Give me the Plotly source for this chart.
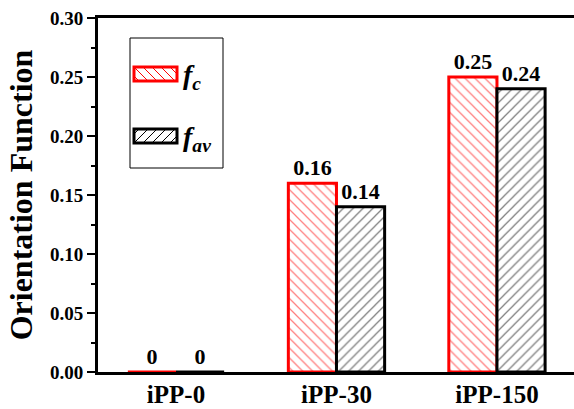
import plotly.graph_objects as go

categories = ["iPP-0", "iPP-30", "iPP-150"]
f_c = [0, 0.16, 0.25]
f_av = [0, 0.14, 0.24]
y_ticks = [0.00, 0.05, 0.10, 0.15, 0.20, 0.25, 0.30]

FONT = "Liberation Serif, Times New Roman, serif"
W, H = 574, 409
L, R, T, B = 98, 574, 18, 372


def px(x):
    return (x - L) / (R - L)


def py(y):
    return (B - y) / (B - T)


def lab(v):
    return f"{v:g}"


def bfont(size):
    return dict(family=FONT, size=size, color="black", weight="bold")


fig = go.Figure()
fig.add_trace(go.Bar(
    x=categories, y=f_c, name="f_c",
    marker=dict(color="white", line=dict(color="#ff0000", width=3),
                pattern=dict(shape="\\", fgcolor="#ff0000", bgcolor="white",
                             size=7, solidity=0.18)),
    text=[lab(v) for v in f_c], textposition="outside", constraintext="none",
    textfont=bfont(22), cliponaxis=False,
))
fig.add_trace(go.Bar(
    x=categories, y=f_av, name="f_av",
    marker=dict(color="white", line=dict(color="black", width=3),
                pattern=dict(shape="/", fgcolor="black", bgcolor="white",
                             size=7, solidity=0.18)),
    text=[lab(v) for v in f_av], textposition="outside", constraintext="none",
    textfont=bfont(22), cliponaxis=False,
))

# custom legend box
shapes = [dict(type="rect", xref="paper", yref="paper",
               x0=px(130), x1=px(223), y0=py(168), y1=py(38),
               line=dict(color="black", width=1), fillcolor="rgba(0,0,0,0)")]


def swatch(cy, color, direction):
    x0, x1 = 134, 177
    y0, y1 = cy - 7, cy + 7
    segs = []
    step = 9
    h = y1 - y0
    for k in range(-2, 8):
        if direction == "back":
            sx0, sy0 = x0 + k * step, y0
            sx1, sy1 = sx0 + h, y1
        else:
            sx0, sy0 = x0 + k * step, y1
            sx1, sy1 = sx0 + h, y0
        if sx1 <= x0 or sx0 >= x1:
            continue
        t0 = max(0, (x0 - sx0) / h)
        t1 = min(1, (x1 - sx0) / h)
        ax, ay = sx0 + t0 * h, sy0 + t0 * (sy1 - sy0)
        bx, by = sx0 + t1 * h, sy0 + t1 * (sy1 - sy0)
        segs.append(f"M{px(ax)},{py(ay)}L{px(bx)},{py(by)}")
    out = [dict(type="path", xref="paper", yref="paper", path="".join(segs),
                line=dict(color=color, width=1))]
    out.append(dict(type="rect", xref="paper", yref="paper",
                    x0=px(x0), x1=px(x1), y0=py(y1), y1=py(y0),
                    line=dict(color=color, width=3)))
    return out


shapes += swatch(74, "#ff0000", "back")
shapes += swatch(136, "black", "fwd")

annotations = [
    dict(xref="paper", yref="paper", x=px(181), y=py(76), xanchor="left", yanchor="middle",
         text="<i>f<sub>c</sub></i>", showarrow=False, font=bfont(28)),
    dict(xref="paper", yref="paper", x=px(181), y=py(138), xanchor="left", yanchor="middle",
         text="<i>f<sub>av</sub></i>", showarrow=False, font=bfont(28)),
]

fig.update_layout(
    width=W, height=H,
    margin=dict(l=L, r=W - R, t=T, b=H - B, pad=0, autoexpand=False),
    paper_bgcolor="white", plot_bgcolor="white",
    barmode="group", bargap=0.4, bargroupgap=0,
    showlegend=False,
    shapes=shapes, annotations=annotations,
    font=dict(family=FONT, color="black"),
)
fig.update_xaxes(
    type="category", range=[-0.486, 2.48], automargin=False,
    showline=True, linecolor="black", linewidth=3, mirror=True,
    ticks="", showgrid=False, layer="below traces",
    tickfont=bfont(25),
    ticklabelstandoff=-2,
)
fig.update_yaxes(
    range=[0, 0.30], tickvals=y_ticks, tickformat=".2f", automargin=False,
    showline=True, linecolor="black", linewidth=3, mirror=False,
    ticks="outside", ticklen=8, tickwidth=2, tickcolor="black",
    minor=dict(dtick=0.025, ticks="outside", ticklen=4, tickwidth=2, tickcolor="black"),
    showgrid=False, zeroline=False, layer="below traces",
    tickfont=bfont(19),
    title=dict(text="<b>Orientation Function</b>", standoff=8,
               font=bfont(32)),
)

fig.write_html("out.html")
